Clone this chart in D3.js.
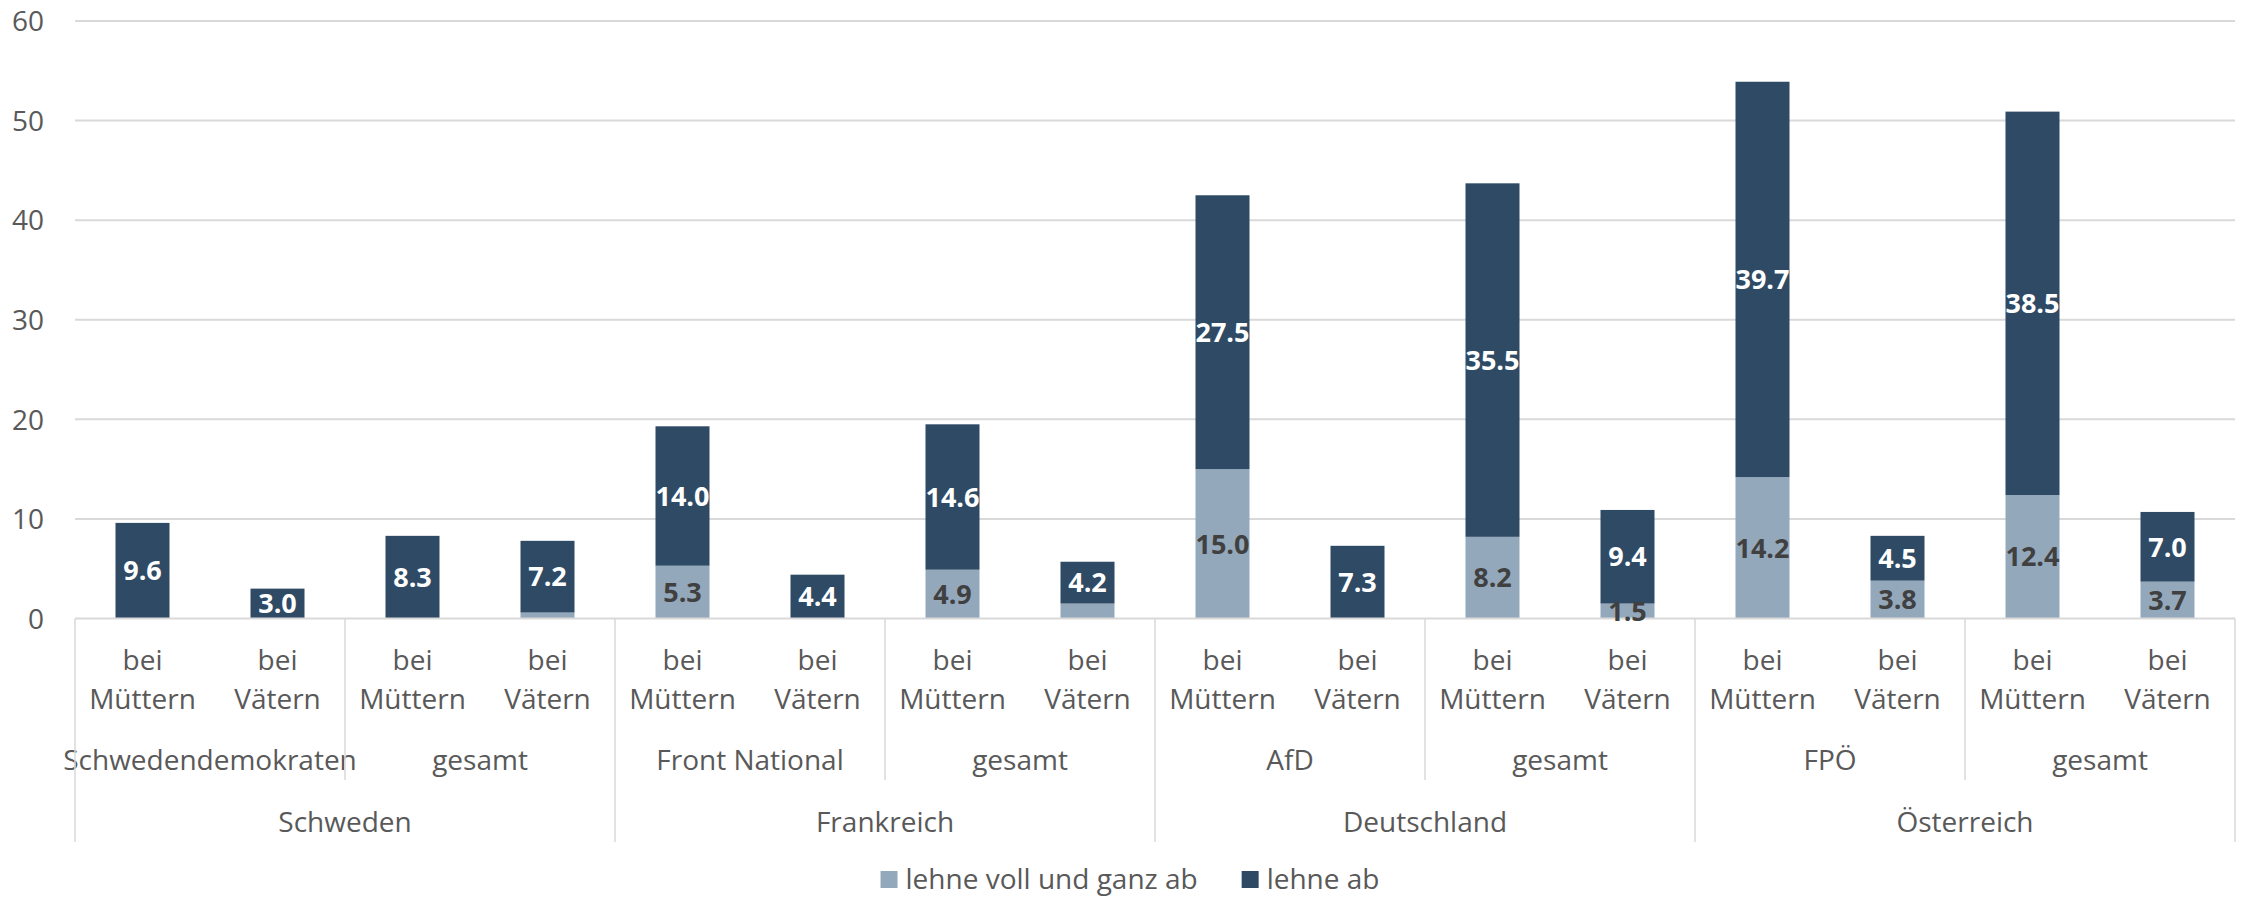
<!DOCTYPE html>
<html>
<head>
<meta charset="utf-8">
<script src="https://cdn.jsdelivr.net/npm/d3@7"></script>
<style>
  html, body { margin: 0; padding: 0; background: #ffffff; }
  svg { display: block; font-family: "Open Sans", "DejaVu Sans", sans-serif; }
</style>
</head>
<body>
<svg id="chart" width="2244" height="897"></svg>
<script>
// ---- data ----
const countries = ["Schweden", "Frankreich", "Deutschland", "Österreich"];
const parties = ["Schwedendemokraten", "gesamt", "Front National", "gesamt", "AfD", "gesamt", "FPÖ", "gesamt"];
const subgroups = ["bei Müttern", "bei Vätern"];
const seriesNames = ["lehne voll und ganz ab", "lehne ab"];
// one value per bar, in order (party x subgroup)
const lehneVollUndGanzAb = [0, 0, 0, 0.6, 5.3, 0, 4.9, 1.5, 15.0, 0, 8.2, 1.5, 14.2, 3.8, 12.4, 3.7];
const lehneAb = [9.6, 3.0, 8.3, 7.2, 14.0, 4.4, 14.6, 4.2, 27.5, 7.3, 35.5, 9.4, 39.7, 4.5, 38.5, 7.0];
// which light-segment values carry a printed label in the original
const lehneVollUndGanzAbLabelled = [false, false, false, false, true, false, true, false, true, false, true, true, true, true, true, true];
const yTicks = [0, 10, 20, 30, 40, 50, 60];

// ---- style ----
const colLight = "#94a8bc";
const colDark = "#2e4a65";
const textCol = "#595959";
const gridCol = "#d9d9d9";
const fontSize = 28;

const svg = d3.select("#chart");
const mLeft = 75, mRight = 2235, mTop = 21, mBottom = 618.5;

const nBars = parties.length * subgroups.length;
const rows = d3.range(nBars).map(i => ({
  i,
  party: parties[Math.floor(i / 2)],
  sub: subgroups[i % 2],
  v0: lehneVollUndGanzAb[i],
  v1: lehneAb[i]
}));

const x = d3.scaleBand().domain(d3.range(nBars)).range([mLeft, mRight])
  .paddingInner(0.6).paddingOuter(0.3);
const y = d3.scaleLinear().domain([0, 60]).range([mBottom, mTop]);

// gridlines
svg.append("g").selectAll("line").data(yTicks.filter(t => t > 0)).join("line")
  .attr("x1", mLeft).attr("x2", mRight)
  .attr("y1", d => y(d)).attr("y2", d => y(d))
  .attr("stroke", gridCol).attr("stroke-width", 2);

// y axis labels
const yAxis = d3.axisLeft(y).tickValues(yTicks).tickSize(0).tickPadding(0);
const gy = svg.append("g").attr("transform", `translate(44,0)`).call(yAxis);
gy.select(".domain").remove();
gy.selectAll("text").attr("font-size", fontSize).attr("fill", textCol)
  .attr("font-family", '"Open Sans", sans-serif').attr("dy", "0.35em");

// stacked bars
const stack = d3.stack().keys(["v0", "v1"])(rows);
const colors = [colLight, colDark];
const labelColors = ["#404040", "#ffffff"];

stack.forEach((layer, k) => {
  svg.append("g").selectAll("rect").data(layer).join("rect")
    .attr("x", (d, i) => x(i))
    .attr("width", x.bandwidth())
    .attr("y", d => y(d[1]))
    .attr("height", d => y(d[0]) - y(d[1]))
    .attr("fill", colors[k]);
});

// x axis baseline
svg.append("line").attr("x1", mLeft).attr("x2", mRight)
  .attr("y1", mBottom).attr("y2", mBottom)
  .attr("stroke", gridCol).attr("stroke-width", 2);

// data labels
stack.forEach((layer, k) => {
  const shown = layer.map((d, i) => ({d, i}))
    .filter(o => (o.d[1] - o.d[0]) > 0 && (k === 1 || lehneVollUndGanzAbLabelled[o.i]));
  svg.append("g").selectAll("text").data(shown)
    .join("text")
    .attr("x", o => x(o.i) + x.bandwidth() / 2)
    .attr("y", o => y((o.d[0] + o.d[1]) / 2))
    .attr("dy", "0.36em")
    .attr("text-anchor", "middle")
    .attr("font-size", 27)
    .attr("font-weight", "bold")
    .attr("fill", labelColors[k])
    .text(o => (o.d[1] - o.d[0]).toFixed(1));
});

// category labels (two lines)
const catG = svg.append("g").attr("font-size", fontSize).attr("fill", textCol).attr("text-anchor", "middle");
rows.forEach(r => {
  const cx = x(r.i) + x.bandwidth() / 2;
  const words = r.sub.split(" ");
  catG.append("text").attr("x", cx).attr("y", 670).text(words[0]);
  catG.append("text").attr("x", cx).attr("y", 709).text(words[1]);
});

// party labels & separators
const step = x.step();
parties.forEach((p, j) => {
  const x0 = mLeft + j * 2 * step;
  catG.append("text").attr("x", x0 + step).attr("y", 770).text(p);
});
svg.append("g").selectAll("line").data(d3.range(parties.length + 1)).join("line")
  .attr("x1", j => mLeft + j * 2 * step).attr("x2", j => mLeft + j * 2 * step)
  .attr("y1", mBottom).attr("y2", j => (j % 2 === 0 ? 842 : 780))
  .attr("stroke", gridCol).attr("stroke-width", 1.5);

// country labels
countries.forEach((c, j) => {
  const x0 = mLeft + j * 4 * step;
  catG.append("text").attr("x", x0 + 2 * step).attr("y", 832).text(c);
});

// legend (centered)
const leg = svg.append("g").attr("font-size", fontSize).attr("fill", textCol);
let lx = 0;
seriesNames.forEach((s, k) => {
  leg.append("rect").attr("x", lx).attr("y", 871).attr("width", 17).attr("height", 17).attr("fill", colors[k]);
  const t = leg.append("text").attr("x", lx + 25).attr("y", 889).text(s);
  lx = lx + 25 + t.node().getComputedTextLength() + (k === 0 ? 44 : 0);
});
leg.attr("transform", `translate(${1130 - lx / 2},0)`);
</script>
</body>
</html>
